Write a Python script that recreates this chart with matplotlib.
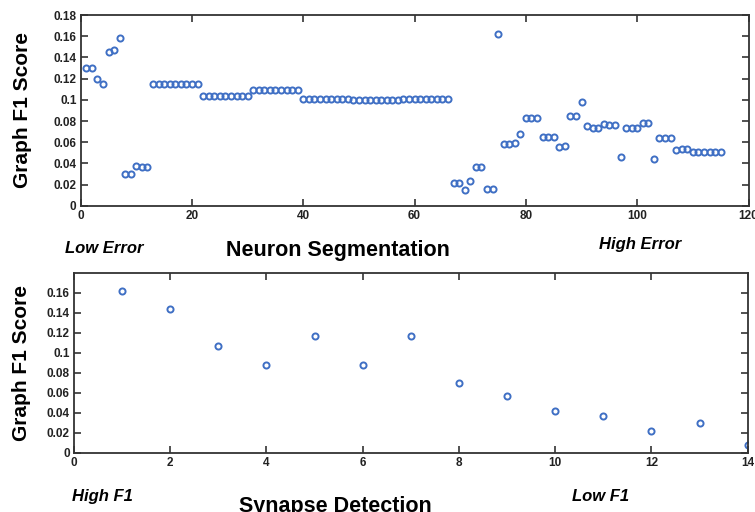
import matplotlib.pyplot as plt
from matplotlib.ticker import FuncFormatter

plt.rcParams['font.family'] = ['Liberation Sans', 'DejaVu Sans']

# Neuron segmentation, sorted low error -> high error
neuron_x = list(range(1, 116))
neuron_f1 = [
    0.130, 0.130, 0.120, 0.115, 0.145, 0.147, 0.158, 0.030, 0.030, 0.038,
    0.037, 0.037,
    0.1145, 0.1145, 0.1145, 0.1145, 0.1145, 0.1145, 0.1145, 0.1145, 0.1145,
    0.104, 0.104, 0.104, 0.104, 0.104, 0.104, 0.104, 0.104, 0.104,
    0.109, 0.109, 0.109, 0.109, 0.109, 0.109, 0.109, 0.109, 0.109,
    0.1005, 0.1005, 0.1005, 0.1005, 0.1005, 0.1005, 0.1005, 0.1005, 0.1005,
    0.0997, 0.0997, 0.0997, 0.0997, 0.0997, 0.0997, 0.0997, 0.0997, 0.0997,
    0.101, 0.101, 0.101, 0.101, 0.101, 0.101, 0.101, 0.101, 0.101,
    0.022, 0.022, 0.0145, 0.023, 0.037, 0.037, 0.0155, 0.0155, 0.162,
    0.058, 0.058, 0.059, 0.068, 0.083, 0.083, 0.083, 0.065, 0.065, 0.065,
    0.0555, 0.0565, 0.085, 0.085, 0.0975, 0.075, 0.073, 0.073, 0.077,
    0.076, 0.076, 0.0465, 0.0735, 0.0735, 0.0735, 0.078, 0.078, 0.0445,
    0.064, 0.064, 0.064, 0.053, 0.054, 0.054,
    0.0505, 0.0505, 0.0505, 0.0505, 0.0505, 0.0505,
]

# Synapse detection, sorted high F1 -> low F1
synapse_x = list(range(1, 15))
synapse_f1 = [0.1616, 0.1437, 0.1064, 0.0875, 0.1167, 0.0875, 0.1167,
              0.0698, 0.0569, 0.0419, 0.0369, 0.0219, 0.0296, 0.0080]

neuron_xticks = [0, 20, 40, 60, 80, 100, 120]
neuron_yticks = [0, 0.02, 0.04, 0.06, 0.08, 0.10, 0.12, 0.14, 0.16, 0.18]
synapse_xticks = [0, 2, 4, 6, 8, 10, 12, 14]
synapse_yticks = [0, 0.02, 0.04, 0.06, 0.08, 0.10, 0.12, 0.14, 0.16]

blue = '#3f6fc4'


def style_axes(ax):
    for s in ax.spines.values():
        s.set_color('#333333')
        s.set_linewidth(1.3)
    ax.tick_params(direction='in', top=True, right=True, length=5,
                   width=1.2, color='#333333', labelsize=8.5, pad=3)
    for lab in ax.get_xticklabels() + ax.get_yticklabels():
        lab.set_fontweight('bold')
        lab.set_color('#222222')
    ax.yaxis.set_major_formatter(FuncFormatter(lambda v, p: f"{v:g}"))


fig = plt.figure(figsize=(7.55, 5.12), dpi=100)

ax1 = fig.add_axes([0.1069, 0.598, 0.8845, 0.3727])
ax1.plot(neuron_x, neuron_f1, 'o', mfc='none', mec=blue, ms=4.4, mew=1.4)
ax1.set_xlim(0, 120)
ax1.set_ylim(0, 0.18)
ax1.set_xticks(neuron_xticks)
ax1.set_yticks(neuron_yticks)
style_axes(ax1)
ax1.set_ylabel('Graph F1 Score', fontsize=15, fontweight='bold')
ax1.yaxis.set_label_coords(-0.073, 0.5)

ax2 = fig.add_axes([0.098, 0.1158, 0.8923, 0.3516])
ax2.plot(synapse_x, synapse_f1, 'o', mfc='none', mec=blue, ms=4.4, mew=1.4)
ax2.set_xlim(0, 14)
ax2.set_ylim(0, 0.18)
ax2.set_xticks(synapse_xticks)
ax2.set_yticks(synapse_yticks)
style_axes(ax2)
ax2.set_ylabel('Graph F1 Score', fontsize=15, fontweight='bold')
ax2.yaxis.set_label_coords(-0.064, 0.5)

fig.text(0.1377, 0.5137, 'Low Error', fontsize=12, fontweight='bold',
         style='italic', ha='center', va='center')
fig.text(0.4477, 0.5117, 'Neuron Segmentation', fontsize=15.5,
         fontweight='bold', ha='center', va='center')
fig.text(0.8477, 0.5234, 'High Error', fontsize=12, fontweight='bold',
         style='italic', ha='center', va='center')

fig.text(0.136, 0.031, 'High F1', fontsize=12, fontweight='bold',
         style='italic', ha='center', va='center')
fig.text(0.4437, 0.0105, 'Synapse Detection', fontsize=15.5,
         fontweight='bold', ha='center', va='center')
fig.text(0.796, 0.031, 'Low F1', fontsize=12, fontweight='bold',
         style='italic', ha='center', va='center')

fig.savefig('out.png', dpi=100)
